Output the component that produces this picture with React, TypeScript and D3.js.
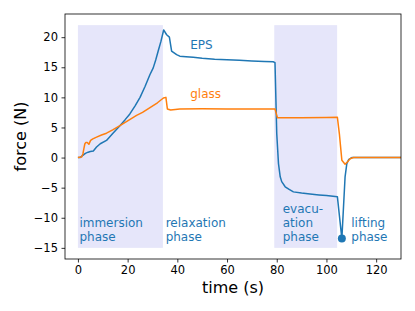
import React, { useEffect, useRef } from 'react';
import * as d3 from 'd3';

// EPS force trace (s, N)
const epsTime = [0, 0.8, 2.1, 3, 4.1, 5, 6.2, 7.5, 9, 11.5, 14, 16.9, 19, 20.9, 23, 25, 27, 29, 30.3, 31.3, 32.3, 33.4, 34.5, 35.7, 36.8, 37.7, 39.7, 41, 43.5, 46.4, 50, 55, 60, 65, 70, 75, 78.7, 79.3, 80, 80.7, 81.4, 82, 83.4, 85, 86.7, 90, 93.4, 97, 100, 104.4, 106.2, 107.5, 108.2, 109, 110.2, 112, 115, 120, 125, 130];
const epsForce = [0, 0, 0.4, 0.7, 0.9, 1.0, 1.1, 1.75, 2.3, 2.85, 4, 5.3, 6.3, 7.25, 8.6, 10, 11.8, 13.8, 14.9, 16.2, 17.7, 19.3, 21.2, 20.4, 20, 17.7, 17.1, 16.85, 16.75, 16.65, 16.5, 16.35, 16.25, 16.15, 16.05, 15.95, 15.9, 15.75, 4, -1, -3.2, -4, -4.85, -5.3, -5.7, -5.9, -6.05, -6.2, -6.3, -6.5, -13.46, -3.2, -1, -0.3, 0, 0, 0, 0, 0, 0];

// glass force trace (s, N)
const glassTime = [0, 1.5, 2, 2.4, 2.8, 3.2, 3.75, 4.4, 5.1, 6, 7.5, 9.5, 11.5, 14, 16.9, 20, 23.6, 26, 29, 32, 34.4, 35.4, 36, 37.3, 41, 50, 60, 70, 79.3, 80.3, 81, 90, 100, 104.4, 105.2, 106.2, 107.5, 108.5, 109.5, 110.9, 115, 120, 130];
const glassForce = [0, 0.1, 0.6, 1.5, 2.3, 2.5, 2.5, 2.2, 2.85, 3.1, 3.4, 3.75, 4.05, 4.6, 5.3, 6.1, 7, 7.5, 8.3, 9.1, 9.9, 10, 8.07, 7.9, 8.07, 8.1, 8.07, 8.05, 8.07, 6.6, 6.6, 6.6, 6.65, 6.7, 3.95, -0.45, -1.1, -0.7, -0.2, 0, 0, 0, 0];

// shaded phases [start, end] in s
const phaseSpans = [[0, 34.2], [79, 104.3]];
const spanForce = [-15, 22];

// lifting point
const liftPoint = [106.2, -13.46];

const phaseLabels = [
  { t: 0.6, lines: ['immersion', 'phase'] },
  { t: 35.3, lines: ['relaxation', 'phase'] },
  { t: 82.4, lines: ['evacu-', 'ation', 'phase'] },
  { t: 110, lines: ['lifting', 'phase'] },
];

const xTicks = [0, 20, 40, 60, 80, 100, 120];
const yTicks = [-15, -10, -5, 0, 5, 10, 15, 20];

const App = () => {
  const svgRef = useRef<SVGSVGElement>(null);

  useEffect(() => {
    const svg = d3.select(svgRef.current);
    svg.selectAll('*').remove();

    const W = 415, H = 311;
    const margin = { top: 14, right: 14, bottom: 52, left: 65 };
    const width = W - margin.left - margin.right;
    const height = H - margin.top - margin.bottom;
    const font = 'DejaVu Sans, sans-serif';
    const blue = '#1f77b4';
    const orange = '#ff7f0e';

    const g = svg.append('g').attr('transform', `translate(${margin.left},${margin.top})`);

    const x = d3.scaleLinear().domain([-5.2, 130]).range([0, width]);
    const y = d3.scaleLinear().domain([-16.85, 23.85]).range([height, 0]);

    // phase shading
    g.selectAll('rect.span')
      .data(phaseSpans)
      .enter()
      .append('rect')
      .attr('x', d => x(d[0]))
      .attr('width', d => x(d[1]) - x(d[0]))
      .attr('y', y(spanForce[1]))
      .attr('height', y(spanForce[0]) - y(spanForce[1]))
      .attr('fill', '#e6e6fa');

    const line = d3.line<[number, number]>()
      .x(d => x(d[0]))
      .y(d => y(d[1]));

    const eps = epsTime.map((t, i) => [t, epsForce[i]] as [number, number]);
    const glass = glassTime.map((t, i) => [t, glassForce[i]] as [number, number]);

    g.append('path')
      .datum(eps)
      .attr('fill', 'none')
      .attr('stroke', blue)
      .attr('stroke-width', 1.5)
      .attr('stroke-linejoin', 'round')
      .attr('d', line);

    g.append('path')
      .datum(glass)
      .attr('fill', 'none')
      .attr('stroke', orange)
      .attr('stroke-width', 1.5)
      .attr('stroke-linejoin', 'round')
      .attr('d', line);

    g.append('circle')
      .attr('cx', x(liftPoint[0]))
      .attr('cy', y(liftPoint[1]))
      .attr('r', 4)
      .attr('fill', blue);

    // curve labels
    g.append('text')
      .attr('x', x(45.2)).attr('y', y(17.96))
      .attr('fill', blue).attr('font-family', font).attr('font-size', 12)
      .text('EPS');
    g.append('text')
      .attr('x', x(45.2)).attr('y', y(9.9))
      .attr('fill', orange).attr('font-family', font).attr('font-size', 12)
      .text('glass');

    // phase labels
    phaseLabels.forEach(p => {
      const n = p.lines.length;
      p.lines.forEach((ln, i) => {
        g.append('text')
          .attr('x', x(p.t))
          .attr('y', y(-13.8) - (n - 1 - i) * 14)
          .attr('fill', blue)
          .attr('font-family', font)
          .attr('font-size', 12)
          .text(ln);
      });
    });

    // axes
    const xAxis = g.append('g')
      .attr('transform', `translate(0,${height})`)
      .call(d3.axisBottom(x).tickValues(xTicks).tickSize(3.5).tickPadding(3.5).tickFormat(d3.format('d')));
    const yAxis = g.append('g')
      .call(d3.axisLeft(y).tickValues(yTicks).tickSize(3.5).tickPadding(3.5)
        .tickFormat(d => d3.format('d')(d as number).replace('-', '\u2212')));

    [xAxis, yAxis].forEach(a => {
      a.select('.domain').remove();
      a.selectAll('.tick line').attr('stroke', 'black').attr('stroke-width', 0.8);
      a.selectAll('text').attr('fill', 'black').attr('font-family', font).attr('font-size', 11.5);
    });

    // frame
    g.append('rect')
      .attr('width', width)
      .attr('height', height)
      .attr('fill', 'none')
      .attr('stroke', 'black')
      .attr('stroke-width', 0.8);

    // axis titles
    g.append('text')
      .attr('x', width / 2)
      .attr('y', height + 34)
      .attr('text-anchor', 'middle')
      .attr('font-family', font)
      .attr('font-size', 16)
      .attr('fill', 'black')
      .text('time (s)');

    g.append('text')
      .attr('transform', 'rotate(-90)')
      .attr('x', -height / 2)
      .attr('y', -39)
      .attr('text-anchor', 'middle')
      .attr('font-family', font)
      .attr('font-size', 16)
      .attr('fill', 'black')
      .text('force (N)');
  }, []);

  return (
    <svg ref={svgRef} width={415} height={311}
      style={{ position: 'absolute', left: 0, top: 0, background: 'white' }} />
  );
};

export default App;
